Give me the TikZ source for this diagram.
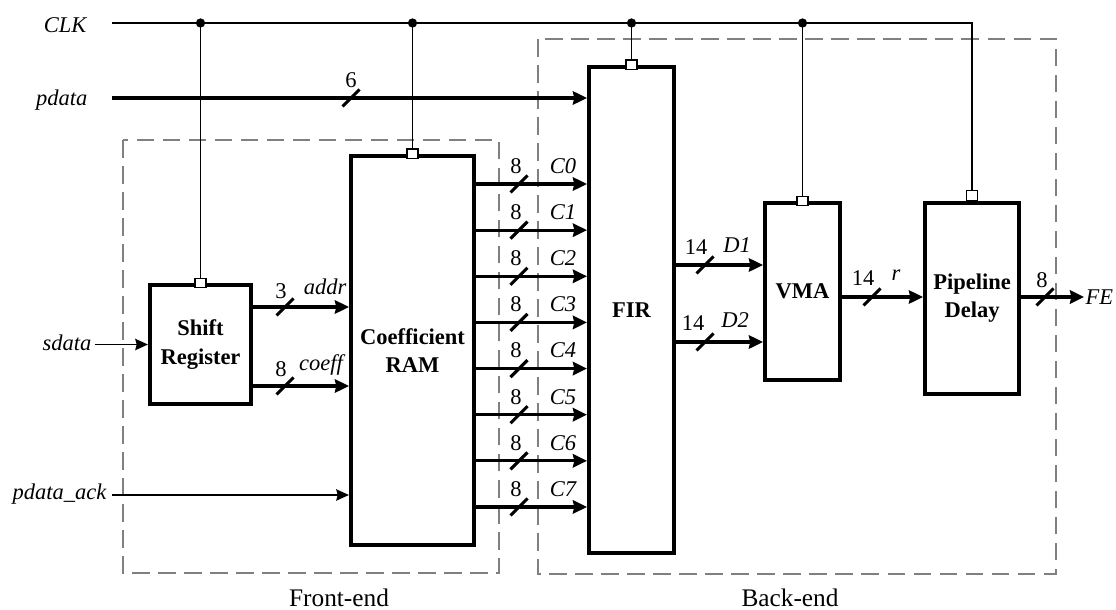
\documentclass[tikz,border=0pt]{standalone}
\usepackage{fontspec}
\setmainfont{Liberation Serif}
\usepackage{tikz}
\usetikzlibrary{positioning,arrows.meta}
\newcommand{\lblsize}{\fontsize{16}{20}\selectfont}

\begin{document}
\begin{tikzpicture}[
  x=0.025cm, y=-0.025cm,
  box/.style={draw, line width=2.9pt, align=center, inner sep=0pt, font=\lblsize\bfseries},
  clkpin/.style={draw, fill=white, line width=0.9pt, minimum width=0.28cm, minimum height=0.24cm, inner sep=0pt},
  clkw/.style={line width=1.4pt},
  bus/.style={line width=2.2pt, -{Stealth[length=10pt, width=9.5pt, inset=1pt]}},
  wire/.style={line width=1.4pt, -{Stealth[length=9pt, width=8pt, inset=1pt]}},
  slash/.style={line width=2.2pt},
  sig/.style={font=\lblsize\itshape, inner sep=1pt},
  num/.style={font=\lblsize, inner sep=1pt},
  region/.style={draw=black!50, line width=2.1pt, dash pattern=on 12.5pt off 6pt},
  reglbl/.style={font=\fontsize{18}{20}\selectfont}]
  \useasboundingbox (0,0) rectangle (1116,610);

  % dashed regions
  \draw[region] (123,140) rectangle (499,573);
  \draw[region] (538,39) rectangle (1056,574);
  \node[reglbl] (frontlbl) at (339,598) {Front-end};
  \node[reglbl] (backlbl) at (790,598) {Back-end};

  % blocks
  \node[box, minimum width=2.525cm, minimum height=2.975cm] (sr) at (200.5,344.5) {Shift\\Register};
  \node[box, minimum width=3.075cm, minimum height=9.725cm] (ram) at (412.5,350.5) {Coefficient\\RAM};
  \node[box, minimum width=2.125cm, minimum height=12.15cm] (fir) at (631.5,310) {FIR};
  \node[box, minimum width=1.875cm, minimum height=4.425cm] (vma) at (802.5,291.5) {VMA};
  \node[box, minimum width=2.35cm, minimum height=4.775cm] (pd) at (972,298.5) {Pipeline\\Delay};
  \foreach \b in {sr,ram,fir,vma}
    \node[clkpin] (clk-\b) at (\b.north) {};
  \node[clkpin, anchor=south] (clk-pd) at (pd.north) {};

  % inputs
  \node[sig, anchor=base east] (clk) at (88,33) {CLK};
  \node[sig, anchor=base east] (pdata) at (89,106) {pdata};
  \node[sig, anchor=base east] (sdata) at (93,350) {sdata};
  \node[sig, anchor=base east] (ack) at (108,499) {pdata\_ack};
  \coordinate (clkin) at (112,23);
  \coordinate (pdatain) at (112,98);
  \coordinate (sdatain) at (95,344.5);
  \coordinate (ackin) at (112,495);

  % clock tree
  \draw[clkw] (clkin) -- (pd.north |- clkin) -- (clk-pd.north);
  \foreach \b in {sr,ram,fir,vma} {
    \draw[clkw] (\b.north |- clkin) -- (clk-\b.north);
    \fill (\b.north |- clkin) circle (3.3pt);
  }

  % data paths
  \draw[bus] (pdatain) -- (fir.west |- pdatain);
  \draw[slash] (351,98) ++(-8.5,8.5) -- ++(17,-17);
  \node[num] (w-pdata) at (351,80) {6};

  \draw[wire] (sdatain) -- (sr.west);
  \draw[wire] (ackin) -- (ram.west |- ackin);

  \draw[bus] (sr.east |- 0,307) -- (ram.west |- 0,307);
  \draw[slash] (285,307) ++(-8.5,8.5) -- ++(17,-17);
  \node[num] (w-addr) at (281,291) {3};
  \node[sig] (addr) at (325,287) {addr};

  \draw[bus] (sr.east |- 0,386) -- (ram.west |- 0,386);
  \draw[slash] (285,386) ++(-8.5,8.5) -- ++(17,-17);
  \node[num] (w-coeff) at (281,369) {8};
  \node[sig] (coeff) at (321,365) {coeff};

  \foreach \i in {0,...,7} {
    \pgfmathsetmacro\y{184+46.14*\i}
    \draw[bus] (ram.east |- 0,\y) -- (fir.west |- 0,\y);
    \draw[slash] (519,\y) ++(-8.5,8.5) -- ++(17,-17);
    \node[num] (w-c\i) at (516,\y-18) {8};
    \node[sig] (c\i) at (563,\y-18) {C\i};
  }

  \draw[bus] (fir.east |- 0,265) -- (vma.west |- 0,265);
  \draw[slash] (705,265) ++(-8.5,8.5) -- ++(17,-17);
  \node[num] (w-d1) at (696,247) {14};
  \node[sig] (d1) at (737,245) {D1};

  \draw[bus] (fir.east |- 0,342) -- (vma.west |- 0,342);
  \draw[slash] (705,342) ++(-8.5,8.5) -- ++(17,-17);
  \node[num] (w-d2) at (693,323) {14};
  \node[sig] (d2) at (735,320) {D2};

  \draw[bus] (vma.east |- 0,297) -- (pd.west |- 0,297);
  \draw[slash] (872,297) ++(-8.5,8.5) -- ++(17,-17);
  \node[num] (w-r) at (863,278) {14};
  \node[sig] (r) at (896,275) {r};

  \node[sig, anchor=west] (fe) at (1084,297) {FE};
  \draw[bus] (pd.east |- fe.west) -- (fe.west);
  \draw[slash] (1045,297) ++(-8.5,8.5) -- ++(17,-17);
  \node[num] (w-fe) at (1042,280) {8};
\end{tikzpicture}
\end{document}
